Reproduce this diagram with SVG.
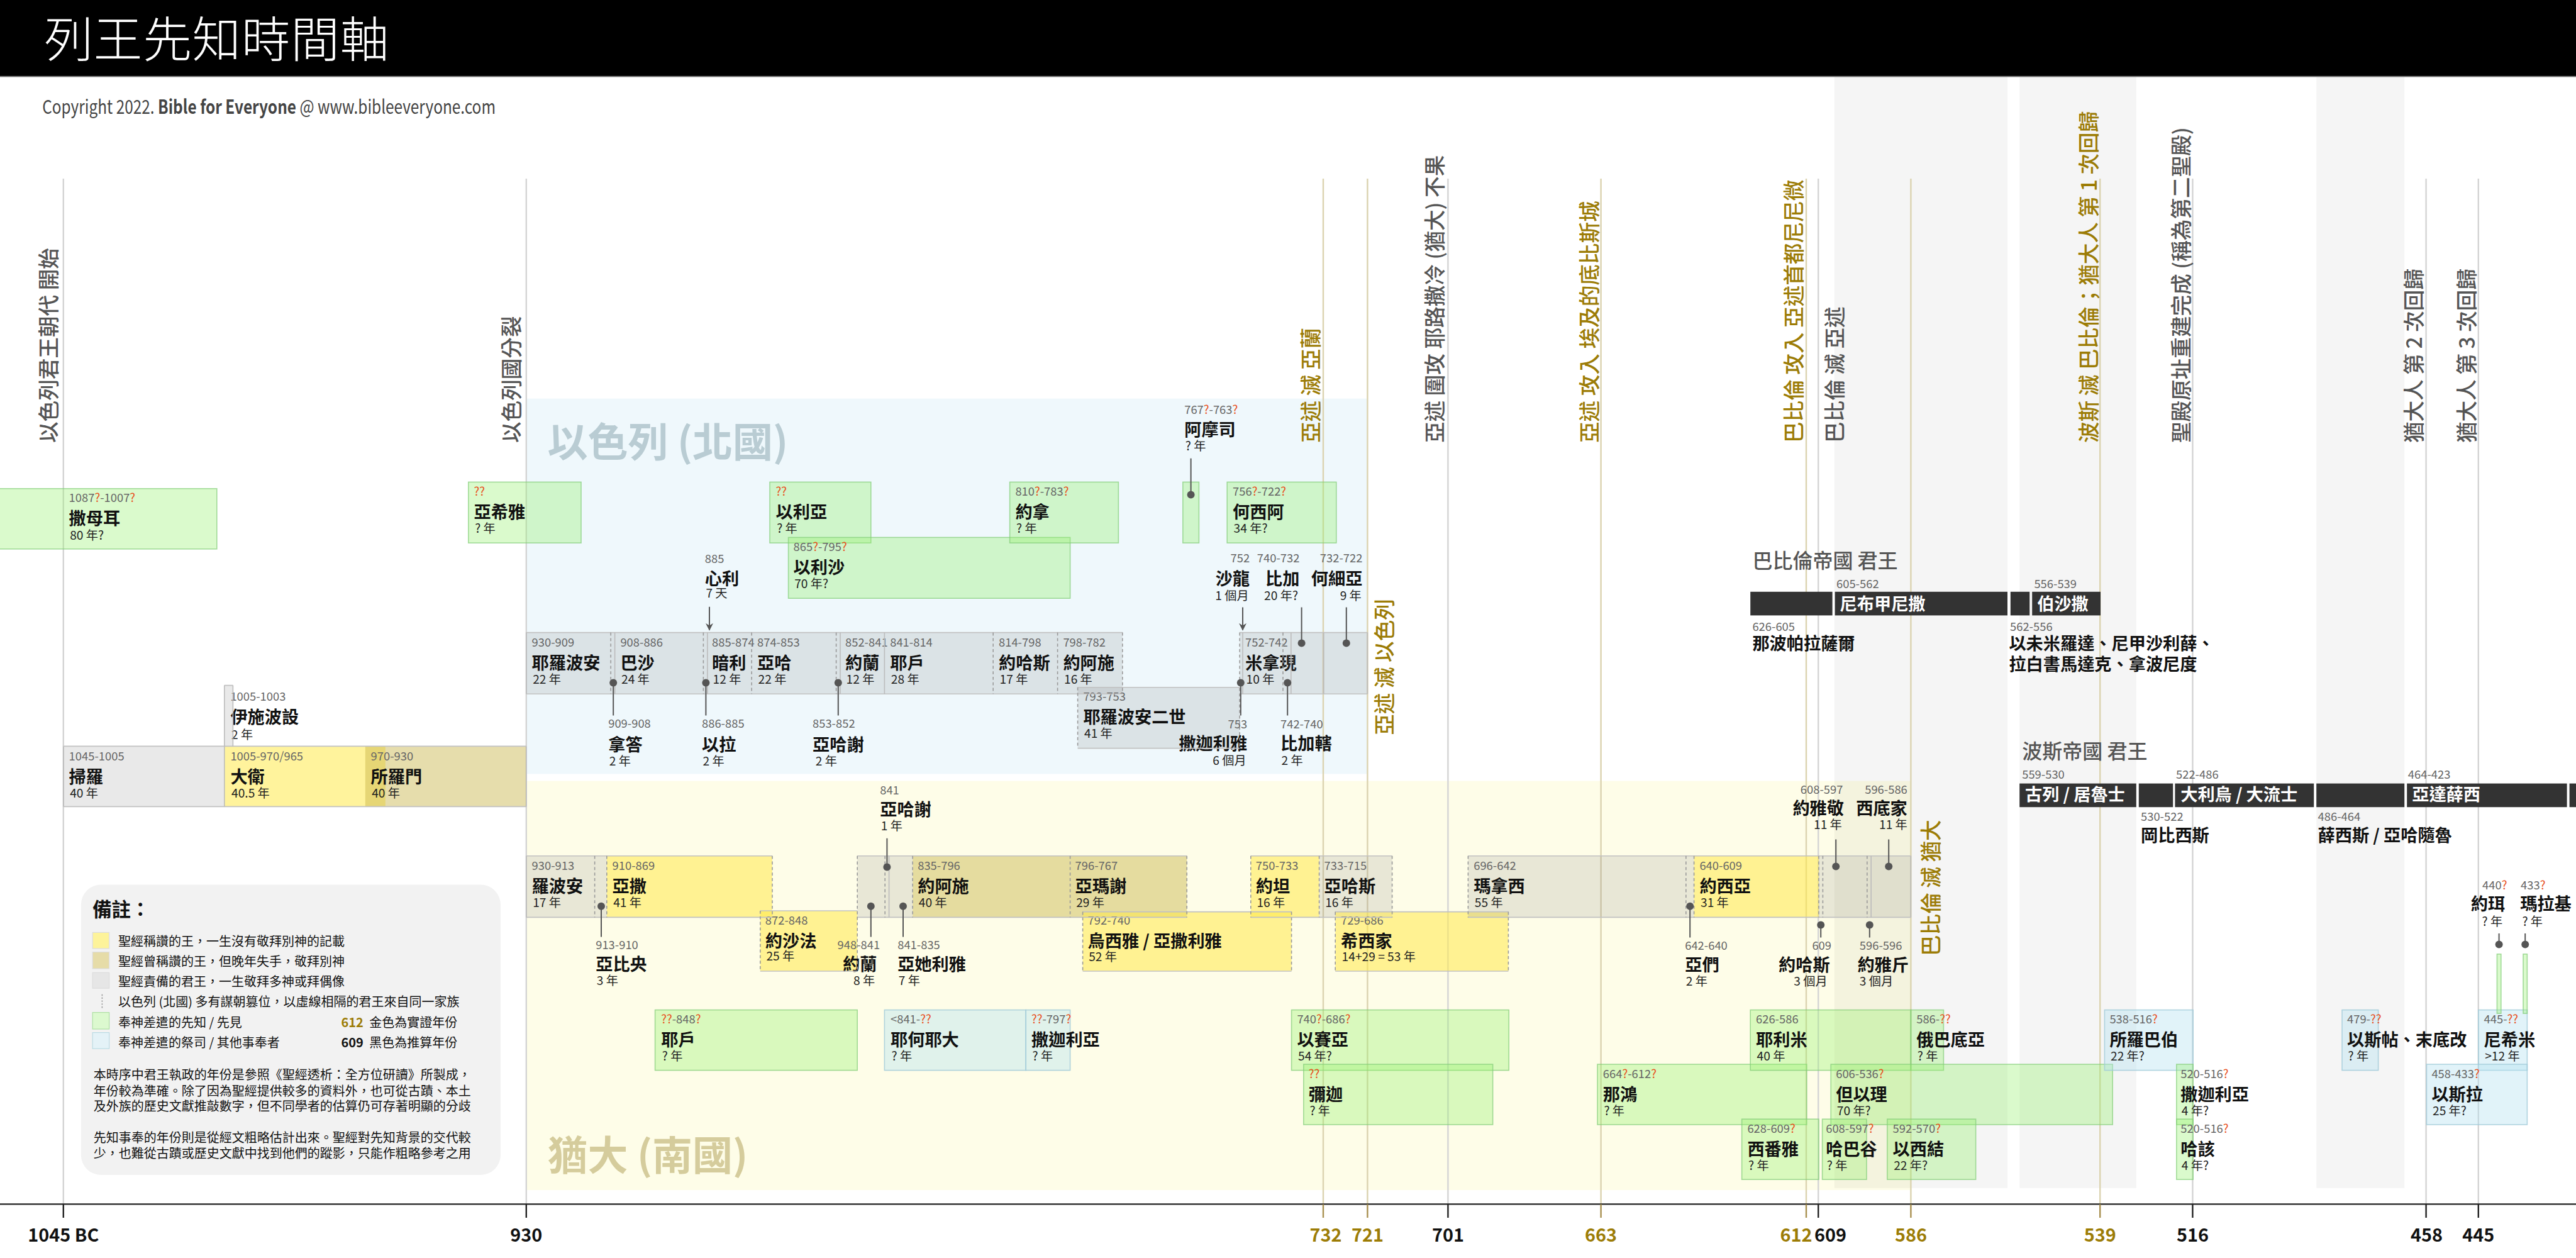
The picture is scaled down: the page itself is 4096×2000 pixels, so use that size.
<svg xmlns="http://www.w3.org/2000/svg" width="4096" height="2000" viewBox="0 0 4096 2000">
<defs>
<style>
text{font-family:"Noto Sans CJK TC","Noto Sans",sans-serif}
.d{font-size:23px;fill:#666}
.q{fill:#e8501e}
.n{font-size:34px;font-weight:700;fill:#111}
.y{font-size:24px;fill:#222}
.e{text-anchor:end}
.kg{fill:#7a7a7a;fill-opacity:.17}
.ky{fill:#ffe94a;fill-opacity:.55}
.kk{fill:#c8b446;fill-opacity:.45}
.pg{fill:#96f06e;fill-opacity:.35;stroke:#82cc78;stroke-opacity:.7;stroke-width:2}
.pb{fill:#b4e1f0;fill-opacity:.4;stroke:#a0cad8;stroke-opacity:.8;stroke-width:2}
.hb{stroke:#c2c2c2;stroke-width:2;fill:none}
.ds{stroke:#9a9a9a;stroke-width:2;stroke-dasharray:6 5;fill:none}
.ss{stroke:#bcbcbc;stroke-width:2;fill:none}
.pole{stroke:#555;stroke-width:2.5;fill:none}
.dot{fill:#555}
.vl{stroke:#d4d4d4;stroke-width:3}
.vg{stroke:#dbd3b0;stroke-width:3}
.vt{font-size:42px;fill:#555;font-weight:500}
.vtg{font-size:42px;fill:#9c7c06;font-weight:500}
.ax{font-size:36px;font-weight:700;fill:#111;text-anchor:middle}
.axg{fill:#9c7c06}
.tk{stroke:#222;stroke-width:3}
.tkg{stroke:#a89050;stroke-width:3}
.bar{fill:#333}
.wn{font-size:34px;font-weight:700;fill:#fff}
.lg{font-size:25px;fill:#111}
.et{font-size:40px;fill:#555;font-weight:500}
</style>
<marker id="ah" viewBox="0 0 10 10" refX="9" refY="5" markerWidth="6" markerHeight="6" orient="auto">
<path d="M0,0L10,5L0,10L3,5z" fill="#555"/>
</marker>
</defs>
<g transform="scale(0.8)">
<rect width="5120" height="2500" fill="#fff"/>
<g id="header">
<rect width="5120" height="152" fill="#000"/>
<line x1="0" y1="152" x2="5120" y2="152" stroke="#777" stroke-width="2"/>
<text x="88" y="114" font-size="97" font-weight="300" fill="#fff" letter-spacing="1">列王先知時間軸</text>
<text x="84" y="226" font-size="38" fill="#444" textLength="901" lengthAdjust="spacingAndGlyphs">Copyright 2022. <tspan font-weight="700">Bible for Everyone</tspan> @ www.bibleeveryone.com</text>
</g>
<g id="backgrounds">
<rect x="1046" y="792" width="1672" height="746" fill="#eff8fc"/>
<rect x="1046" y="1552" width="2752" height="813" fill="#fefde8"/>
<rect x="3646" y="153" width="344" height="2208" fill="#000" fill-opacity=".04"/>
<rect x="4014" y="153" width="232" height="2208" fill="#000" fill-opacity=".04"/>
<rect x="4604" y="153" width="175" height="2208" fill="#000" fill-opacity=".04"/>
<text x="1088" y="907" font-size="80" font-weight="700" fill="#b9ccd3">以色列 (北國)</text>
<text x="1088" y="2325" font-size="80" font-weight="700" fill="#d5cc9c">猶大 (南國)</text>
</g>
<g id="event-lines">
<path class="vl" d="M126,355V2393M1046,355V2393M2878,355V2393M3614,355V2393M4358,355V2393M4822,355V2393M4926,355V2393"/>
<path class="vg" d="M2630,355V2393M2718,355V2393M3182,355V2393M3590,355V2393M3798,355V2393M4174,355V2393"/>
<text class="vt" transform="translate(112,880) rotate(-90)">以色列君王朝代 開始</text>
<text class="vt" transform="translate(1033,880) rotate(-90)">以色列國分裂</text>
<text class="vtg" transform="translate(2621,880) rotate(-90)">亞述 滅 亞蘭</text>
<text class="vtg" transform="translate(2768,1461) rotate(-90)">亞述 滅 以色列</text>
<text class="vt" transform="translate(2868,880) rotate(-90)">亞述 圍攻 耶路撒冷 (猶大) 不果</text>
<text class="vtg" transform="translate(3175,880) rotate(-90)">亞述 攻入 埃及的底比斯城</text>
<text class="vtg" transform="translate(3581,880) rotate(-90)">巴比倫 攻入 亞述首都尼尼微</text>
<text class="vt" transform="translate(3662,880) rotate(-90)">巴比倫 滅 亞述</text>
<text class="vtg" transform="translate(3854,1900) rotate(-90)">巴比倫 滅 猶大</text>
<text class="vtg" transform="translate(4167,880) rotate(-90)">波斯 滅 巴比倫；猶大人 第 1 次回歸</text>
<text class="vt" transform="translate(4351,880) rotate(-90)">聖殿原址重建完成 (稱為第二聖殿)</text>
<text class="vt" transform="translate(4814,880) rotate(-90)">猶大人 第 2 次回歸</text>
<text class="vt" transform="translate(4919,880) rotate(-90)">猶大人 第 3 次回歸</text>
</g>
<g id="axis">
<line x1="0" y1="2393" x2="5120" y2="2393" stroke="#222" stroke-width="3"/>
<path class="tk" d="M126,2393V2420M1046,2393V2420M2878,2393V2420M3614,2393V2420M4358,2393V2420M4822,2393V2420M4926,2393V2420"/>
<path class="tkg" d="M2630,2393V2420M2718,2393V2420M3182,2393V2420M3590,2393V2420M3798,2393V2420M4174,2393V2420"/>
<text class="ax" x="126" y="2468">1045 BC</text>
<text class="ax" x="1046" y="2468">930</text>
<text class="ax axg" x="2635" y="2468">732</text>
<text class="ax axg" x="2718" y="2468">721</text>
<text class="ax" x="2878" y="2468">701</text>
<text class="ax axg" x="3182" y="2468">663</text>
<text class="ax axg" x="3570" y="2468">612</text>
<text class="ax" x="3638" y="2468">609</text>
<text class="ax axg" x="3798" y="2468">586</text>
<text class="ax axg" x="4174" y="2468">539</text>
<text class="ax" x="4358" y="2468">516</text>
<text class="ax" x="4823" y="2468">458</text>
<text class="ax" x="4926" y="2468">445</text>
</g>
<g id="united-kingdom">
<g id="saul"><rect class="kg" x="126" y="1483" width="320" height="120"/><text class="d" x="137" y="1511">1045-1005</text><text class="n" x="137" y="1556">掃羅</text><text class="y" x="139" y="1585">40 年</text></g>
<g id="ishbosheth"><rect class="kg" x="446" y="1362" width="17" height="121"/><text class="d" x="458" y="1392">1005-1003</text><text class="n" x="458" y="1437">伊施波設</text><text class="y" x="460" y="1469">2 年</text></g>
<g id="david"><rect class="ky" x="446" y="1483" width="320" height="120"/><text class="d" x="458" y="1511">1005-970/965</text><text class="n" x="458" y="1556">大衛</text><text class="y" x="460" y="1585">40.5 年</text></g>
<g id="solomon"><rect class="kk" x="726" y="1483" width="320" height="120"/><text class="d" x="737" y="1511">970-930</text><text class="n" x="737" y="1556">所羅門</text><text class="y" x="739" y="1585">40 年</text></g>
</g>
<g id="israel-kings">
<g id="i-jeroboam"><rect class="kg" x="1046" y="1257" width="168" height="122"/><text class="d" x="1057" y="1285">930-909</text><text class="n" x="1057" y="1330">耶羅波安</text><text class="y" x="1059" y="1359">22 年</text></g>
<g id="i-nadab"><rect class="kg" x="1214" y="1257" width="8" height="122"/><text class="d" x="1209" y="1446">909-908</text><text class="n" x="1209" y="1492">拿答</text><text class="y" x="1211" y="1521">2 年</text></g>
<g id="i-baasha"><rect class="kg" x="1222" y="1257" width="176" height="122"/><text class="d" x="1233" y="1285">908-886</text><text class="n" x="1233" y="1330">巴沙</text><text class="y" x="1235" y="1359">24 年</text></g>
<g id="i-elah"><rect class="kg" x="1398" y="1257" width="8" height="122"/><text class="d" x="1395" y="1446">886-885</text><text class="n" x="1395" y="1492">以拉</text><text class="y" x="1397" y="1521">2 年</text></g>
<g id="i-zimri"><text class="d" x="1401" y="1119">885</text><text class="n" x="1401" y="1162">心利</text><text class="y" x="1403" y="1188">7 天</text></g>
<g id="i-omri"><rect class="kg" x="1406" y="1257" width="88" height="122"/><text class="d" x="1415" y="1285">885-874</text><text class="n" x="1415" y="1330">暗利</text><text class="y" x="1417" y="1359">12 年</text></g>
<g id="i-ahab"><rect class="kg" x="1494" y="1257" width="168" height="122"/><text class="d" x="1505" y="1285">874-853</text><text class="n" x="1505" y="1330">亞哈</text><text class="y" x="1507" y="1359">22 年</text></g>
<g id="i-ahaziah"><rect class="kg" x="1662" y="1257" width="8" height="122"/><text class="d" x="1615" y="1446">853-852</text><text class="n" x="1615" y="1492">亞哈謝</text><text class="y" x="1621" y="1521">2 年</text></g>
<g id="i-joram"><rect class="kg" x="1670" y="1257" width="88" height="122"/><text class="d" x="1680" y="1285">852-841</text><text class="n" x="1680" y="1330">約蘭</text><text class="y" x="1682" y="1359">12 年</text></g>
<g id="i-jehu"><rect class="kg" x="1758" y="1257" width="216" height="122"/><text class="d" x="1769" y="1285">841-814</text><text class="n" x="1769" y="1330">耶戶</text><text class="y" x="1771" y="1359">28 年</text></g>
<g id="i-jehoahaz"><rect class="kg" x="1974" y="1257" width="128" height="122"/><text class="d" x="1985" y="1285">814-798</text><text class="n" x="1985" y="1330">約哈斯</text><text class="y" x="1987" y="1359">17 年</text></g>
<g id="i-jehoash"><rect class="kg" x="2102" y="1257" width="129" height="122"/><text class="d" x="2113" y="1285">798-782</text><text class="n" x="2113" y="1330">約阿施</text><text class="y" x="2115" y="1359">16 年</text></g>
<g id="i-jeroboam2"><rect class="kg" x="2142" y="1366" width="322" height="121"/><text class="d" x="2153" y="1393">793-753</text><text class="n" x="2153" y="1438">耶羅波安二世</text><text class="y" x="2155" y="1466">41 年</text></g>
<g id="i-zechariah"><rect class="kg" x="2464" y="1257" width="6" height="122"/><text class="d e" x="2479" y="1447">753</text><text class="n e" x="2479" y="1490">撒迦利雅</text><text class="y e" x="2477" y="1520">6 個月</text></g>
<g id="i-shallum"><text class="d e" x="2484" y="1118">752</text><text class="n e" x="2484" y="1162">沙龍</text><text class="y e" x="2482" y="1192">1 個月</text></g>
<g id="i-menahem"><rect class="kg" x="2470" y="1257" width="80" height="122"/><text class="d" x="2475" y="1285">752-742</text><text class="n" x="2475" y="1330">米拿現</text><text class="y" x="2477" y="1359">10 年</text></g>
<g id="i-pekahiah"><rect class="kg" x="2550" y="1257" width="16" height="122"/><text class="d" x="2545" y="1447">742-740</text><text class="n" x="2545" y="1490">比加轄</text><text class="y" x="2547" y="1520">2 年</text></g>
<g id="i-pekah"><rect class="kg" x="2566" y="1257" width="65" height="122"/><text class="d e" x="2583" y="1118">740-732</text><text class="n e" x="2583" y="1162">比加</text><text class="y e" x="2580" y="1192">20 年?</text></g>
<g id="i-hoshea"><rect class="kg" x="2631" y="1257" width="87" height="122"/><text class="d e" x="2708" y="1118">732-722</text><text class="n e" x="2708" y="1162">何細亞</text><text class="y e" x="2706" y="1192">9 年</text></g>
</g>
<g id="judah-kings">
<g id="j-rehoboam"><rect class="kg" x="1046" y="1701" width="136" height="122"/><text class="d" x="1057" y="1729">930-913</text><text class="n" x="1057" y="1774">羅波安</text><text class="y" x="1059" y="1803">17 年</text></g>
<g id="j-abijah"><rect class="kg" x="1182" y="1701" width="24" height="122"/><text class="d" x="1184" y="1886">913-910</text><text class="n" x="1184" y="1929">亞比央</text><text class="y" x="1186" y="1957">3 年</text></g>
<g id="j-asa"><rect class="ky" x="1206" y="1701" width="329" height="122"/><text class="d" x="1217" y="1729">910-869</text><text class="n" x="1217" y="1774">亞撒</text><text class="y" x="1219" y="1803">41 年</text></g>
<g id="j-jehoshaphat"><rect class="ky" x="1511" y="1810" width="193" height="120"/><text class="d" x="1521" y="1838">872-848</text><text class="n" x="1521" y="1882">約沙法</text><text class="y" x="1523" y="1909">25 年</text></g>
<g id="j-jehoram"><rect class="kg" x="1704" y="1701" width="55" height="122"/><text class="d e" x="1749" y="1886">948-841</text><text class="n e" x="1743" y="1929">約蘭</text><text class="y e" x="1739" y="1957">8 年</text></g>
<g id="j-ahaziah"><rect class="kg" x="1759" y="1701" width="8" height="122"/><text class="d" x="1749" y="1579">841</text><text class="n" x="1749" y="1621">亞哈謝</text><text class="y" x="1751" y="1650">1 年</text></g>
<g id="j-athaliah"><rect class="kg" x="1767" y="1701" width="47" height="122"/><text class="d" x="1784" y="1886">841-835</text><text class="n" x="1784" y="1929">亞她利雅</text><text class="y" x="1786" y="1957">7 年</text></g>
<g id="j-joash"><rect class="kk" x="1814" y="1701" width="313" height="122"/><text class="d" x="1824" y="1729">835-796</text><text class="n" x="1824" y="1774">約阿施</text><text class="y" x="1826" y="1803">40 年</text></g>
<g id="j-amaziah"><rect class="kk" x="2127" y="1701" width="232" height="122"/><text class="d" x="2137" y="1729">796-767</text><text class="n" x="2137" y="1774">亞瑪謝</text><text class="y" x="2139" y="1803">29 年</text></g>
<g id="j-uzziah"><rect class="ky" x="2152" y="1812" width="415" height="118"/><text class="d" x="2162" y="1838">792-740</text><text class="n" x="2162" y="1882">烏西雅 / 亞撒利雅</text><text class="y" x="2164" y="1910">52 年</text></g>
<g id="j-jotham"><rect class="ky" x="2486" y="1701" width="136" height="122"/><text class="d" x="2496" y="1729">750-733</text><text class="n" x="2496" y="1774">約坦</text><text class="y" x="2498" y="1803">16 年</text></g>
<g id="j-ahaz"><rect class="kg" x="2622" y="1701" width="145" height="122"/><text class="d" x="2632" y="1729">733-715</text><text class="n" x="2632" y="1774">亞哈斯</text><text class="y" x="2634" y="1803">16 年</text></g>
<g id="j-hezekiah"><rect class="ky" x="2654" y="1812" width="344" height="118"/><text class="d" x="2665" y="1838">729-686</text><text class="n" x="2665" y="1882">希西家</text><text class="y" x="2667" y="1910">14+29 = 53 年</text></g>
<g id="j-manasseh"><rect class="kg" x="2918" y="1701" width="433" height="122"/><text class="d" x="2929" y="1729">696-642</text><text class="n" x="2929" y="1774">瑪拿西</text><text class="y" x="2931" y="1803">55 年</text></g>
<g id="j-amon"><rect class="kg" x="3351" y="1701" width="16" height="122"/><text class="d" x="3349" y="1888">642-640</text><text class="n" x="3349" y="1930">亞們</text><text class="y" x="3351" y="1959">2 年</text></g>
<g id="j-josiah"><rect class="ky" x="3367" y="1701" width="248" height="122"/><text class="d" x="3378" y="1729">640-609</text><text class="n" x="3378" y="1774">約西亞</text><text class="y" x="3380" y="1803">31 年</text></g>
<g id="j-jehoahaz"><rect class="kg" x="3615" y="1701" width="8" height="122"/><text class="d e" x="3640" y="1888">609</text><text class="n e" x="3637" y="1930">約哈斯</text><text class="y e" x="3632" y="1959">3 個月</text></g>
<g id="j-jehoiakim"><rect class="kg" x="3623" y="1701" width="88" height="122"/><text class="d e" x="3663" y="1577">608-597</text><text class="n e" x="3665" y="1619">約雅敬</text><text class="y e" x="3661" y="1648">11 年</text></g>
<g id="j-jehoiachin"><rect class="kg" x="3711" y="1701" width="8" height="122"/><text class="d" x="3696" y="1888">596-596</text><text class="n" x="3692" y="1930">約雅斤</text><text class="y" x="3696" y="1959">3 個月</text></g>
<g id="j-zedekiah"><rect class="kg" x="3719" y="1701" width="79" height="122"/><text class="d e" x="3791" y="1577">596-586</text><text class="n e" x="3791" y="1619">西底家</text><text class="y e" x="3791" y="1648">11 年</text></g>
</g>
<g id="king-borders">
<path class="hb" d="M126,1483H1046M126,1603H1046M446,1362H463M1046,1257H2231M1046,1379H2231M2464,1257H2718M2464,1379H2718M2142,1366H2464M2142,1487H2464M1046,1701H1535M1046,1823H1535M1704,1701H2359M1704,1823H2359M2486,1701H2767M2486,1823H2767M2918,1701H3798M2918,1823H3798M1511,1810H1704M1511,1930H1704M2152,1812H2567M2152,1930H2567M2654,1812H2998M2654,1930H2998"/>
<path class="ss" d="M126,1483V1603M446,1362V1603M463,1362V1483M1046,1483V1603M1046,1257V1379M1222,1257V1379M1406,1257V1379M1670,1257V1379M1758,1257V1379M2470,1257V1379M2566,1257V1379M2631,1257V1379M2718,1257V1379M1046,1701V1823M1767,1701V1823M3719,1701V1823M3798,1701V1823"/>
<path class="ds" d="M1214,1257V1379M1398,1257V1379M1494,1257V1379M1662,1257V1379M1974,1257V1379M2102,1257V1379M2231,1257V1379M2464,1257V1487M2550,1257V1379M2142,1366V1487M1182,1701V1823M1206,1701V1823M1535,1701V1823M1759,1701V1823M1814,1701V1823M2127,1701V1823M2359,1701V1823M2486,1701V1823M2622,1701V1823M2767,1701V1823M2918,1701V1823M3351,1701V1823M3367,1701V1823M3615,1701V1823M3623,1701V1823M3711,1701V1823M1704,1701V1930M1511,1810V1930M2152,1812V1930M2567,1812V1930M2654,1812V1930M2998,1812V1930"/>
</g>
<g id="prophets">
<g id="p-samuel"><rect class="pg" x="-4" y="971" width="435" height="120"/><text class="d" x="137" y="998">1087<tspan class="q">?</tspan>-1007<tspan class="q">?</tspan></text><text class="n" x="137" y="1043">撒母耳</text><text class="y" x="139" y="1072">80 年?</text></g>
<g id="p-ahijah"><rect class="pg" x="931" y="958" width="224" height="121"/><text class="d" x="942" y="985"><tspan class="q">??</tspan></text><text class="n" x="942" y="1030">亞希雅</text><text class="y" x="944" y="1059">? 年</text></g>
<g id="p-elijah"><rect class="pg" x="1530" y="958" width="201" height="121"/><text class="d" x="1542" y="985"><tspan class="q">??</tspan></text><text class="n" x="1542" y="1030">以利亞</text><text class="y" x="1544" y="1059">? 年</text></g>
<g id="p-elisha"><rect class="pg" x="1567" y="1068" width="560" height="121"/><text class="d" x="1577" y="1095">865<tspan class="q">?</tspan>-795<tspan class="q">?</tspan></text><text class="n" x="1577" y="1140">以利沙</text><text class="y" x="1579" y="1169">70 年?</text></g>
<g id="p-jonah"><rect class="pg" x="2007" y="958" width="216" height="121"/><text class="d" x="2018" y="985">810<tspan class="q">?</tspan>-783<tspan class="q">?</tspan></text><text class="n" x="2018" y="1030">約拿</text><text class="y" x="2020" y="1059">? 年</text></g>
<g id="p-amos"><rect class="pg" x="2351" y="958" width="32" height="121"/><text class="d" x="2354" y="822">767<tspan class="q">?</tspan>-763<tspan class="q">?</tspan></text><text class="n" x="2354" y="866">阿摩司</text><text class="y" x="2356" y="895">? 年</text></g>
<g id="p-hosea"><rect class="pg" x="2439" y="958" width="217" height="121"/><text class="d" x="2450" y="985">756<tspan class="q">?</tspan>-722<tspan class="q">?</tspan></text><text class="n" x="2450" y="1030">何西阿</text><text class="y" x="2452" y="1059">34 年?</text></g>
<g id="p-jehu"><rect class="pg" x="1302" y="2007" width="402" height="120"/><text class="d" x="1314" y="2034"><tspan class="q">??</tspan>-848<tspan class="q">?</tspan></text><text class="n" x="1314" y="2079">耶戶</text><text class="y" x="1316" y="2108">? 年</text></g>
<g id="p-jehoiada"><rect class="pb" x="1758" y="2007" width="281" height="120"/><text class="d" x="1770" y="2034">&lt;841-<tspan class="q">??</tspan></text><text class="n" x="1770" y="2079">耶何耶大</text><text class="y" x="1772" y="2108">? 年</text></g>
<g id="p-zechariah-priest"><rect class="pb" x="2039" y="2007" width="88" height="120"/><text class="d" x="2050" y="2034"><tspan class="q">??</tspan>-797<tspan class="q">?</tspan></text><text class="n" x="2050" y="2079">撒迦利亞</text><text class="y" x="2052" y="2108">? 年</text></g>
<g id="p-isaiah"><rect class="pg" x="2567" y="2007" width="432" height="120"/><text class="d" x="2578" y="2034">740<tspan class="q">?</tspan>-686<tspan class="q">?</tspan></text><text class="n" x="2578" y="2079">以賽亞</text><text class="y" x="2580" y="2108">54 年?</text></g>
<g id="p-micah"><rect class="pg" x="2591" y="2115" width="376" height="120"/><text class="d" x="2601" y="2142"><tspan class="q">??</tspan></text><text class="n" x="2601" y="2187">彌迦</text><text class="y" x="2603" y="2216">? 年</text></g>
<g id="p-nahum"><rect class="pg" x="3175" y="2115" width="416" height="120"/><text class="d" x="3186" y="2142">664<tspan class="q">?</tspan>-612<tspan class="q">?</tspan></text><text class="n" x="3186" y="2187">那鴻</text><text class="y" x="3188" y="2216">? 年</text></g>
<g id="p-jeremiah"><rect class="pg" x="3479" y="2007" width="319" height="120"/><text class="d" x="3490" y="2034">626-586</text><text class="n" x="3490" y="2079">耶利米</text><text class="y" x="3492" y="2108">40 年</text></g>
<g id="p-obadiah"><rect class="pg" x="3798" y="2007" width="65" height="120"/><text class="d" x="3809" y="2034">586-<tspan class="q">??</tspan></text><text class="n" x="3809" y="2079">俄巴底亞</text><text class="y" x="3811" y="2108">? 年</text></g>
<g id="p-daniel"><rect class="pg" x="3639" y="2115" width="560" height="120"/><text class="d" x="3649" y="2142">606-536<tspan class="q">?</tspan></text><text class="n" x="3649" y="2187">但以理</text><text class="y" x="3651" y="2216">70 年?</text></g>
<g id="p-zephaniah"><rect class="pg" x="3462" y="2224" width="153" height="120"/><text class="d" x="3473" y="2251">628-609<tspan class="q">?</tspan></text><text class="n" x="3473" y="2296">西番雅</text><text class="y" x="3475" y="2325">? 年</text></g>
<g id="p-habakkuk"><rect class="pg" x="3622" y="2224" width="88" height="120"/><text class="d" x="3629" y="2251">608-597<tspan class="q">?</tspan></text><text class="n" x="3629" y="2296">哈巴谷</text><text class="y" x="3631" y="2325">? 年</text></g>
<g id="p-ezekiel"><rect class="pg" x="3751" y="2224" width="176" height="120"/><text class="d" x="3762" y="2251">592-570<tspan class="q">?</tspan></text><text class="n" x="3762" y="2296">以西結</text><text class="y" x="3764" y="2325">22 年?</text></g>
<g id="p-zerubbabel"><rect class="pb" x="4183" y="2007" width="176" height="120"/><text class="d" x="4193" y="2034">538-516<tspan class="q">?</tspan></text><text class="n" x="4193" y="2079">所羅巴伯</text><text class="y" x="4195" y="2108">22 年?</text></g>
<g id="p-zechariah"><rect class="pg" x="4326" y="2115" width="33" height="120"/><text class="d" x="4334" y="2142">520-516<tspan class="q">?</tspan></text><text class="n" x="4334" y="2187">撒迦利亞</text><text class="y" x="4336" y="2216">4 年?</text></g>
<g id="p-haggai"><rect class="pg" x="4326" y="2224" width="33" height="120"/><text class="d" x="4334" y="2251">520-516<tspan class="q">?</tspan></text><text class="n" x="4334" y="2296">哈該</text><text class="y" x="4336" y="2325">4 年?</text></g>
<g id="p-esther"><rect class="pb" x="4655" y="2007" width="72" height="120"/><text class="d" x="4665" y="2034">479-<tspan class="q">??</tspan></text><text class="n" x="4665" y="2079">以斯帖、末底改</text><text class="y" x="4667" y="2108">? 年</text></g>
<g id="p-nehemiah"><rect class="pb" x="4926" y="2007" width="97" height="120"/><text class="d" x="4937" y="2034">445-<tspan class="q">??</tspan></text><text class="n" x="4937" y="2079">尼希米</text><text class="y" x="4939" y="2108">&gt;12 年</text></g>
<g id="p-ezra"><rect class="pb" x="4823" y="2115" width="200" height="120"/><text class="d" x="4833" y="2142">458-433<tspan class="q">?</tspan></text><text class="n" x="4833" y="2187">以斯拉</text><text class="y" x="4835" y="2216">25 年?</text></g>
<g id="p-joel"><rect class="pg" x="4963" y="1896" width="8" height="118"/><text class="d e" x="4983" y="1768">440<tspan class="q">?</tspan></text><text class="n e" x="4979" y="1809">約珥</text><text class="y e" x="4974" y="1840">? 年</text></g>
<g id="p-malachi"><rect class="pg" x="5015" y="1896" width="8" height="118"/><text class="d" x="5010" y="1768">433<tspan class="q">?</tspan></text><text class="n" x="5009" y="1809">瑪拉基</text><text class="y" x="5013" y="1840">? 年</text></g>
</g>
<g id="empires">
<text class="et" x="3483" y="1129">巴比倫帝國 君王</text>
<g id="b-nabopolassar"><rect class="bar" x="3479" y="1176" width="163" height="47"/><text class="d" x="3483" y="1254">626-605</text><text class="n" x="3483" y="1291">那波帕拉薩爾</text></g>
<g id="b-nebuchadnezzar"><rect class="bar" x="3647" y="1176" width="343" height="47"/><text class="d" x="3650" y="1169">605-562</text><text class="wn" x="3657" y="1213">尼布甲尼撒</text></g>
<g id="b-others"><rect class="bar" x="3996" y="1176" width="38" height="47"/><text class="d" x="3995" y="1254">562-556</text><text class="n" x="3993" y="1291">以未米羅達、尼甲沙利薛、</text><text class="n" x="3993" y="1333">拉白書馬達克、拿波尼度</text></g>
<g id="b-belshazzar"><rect class="bar" x="4039" y="1176" width="136" height="47"/><text class="d" x="4043" y="1169">556-539</text><text class="wn" x="4049" y="1213">伯沙撒</text></g>
<text class="et" x="4019" y="1508">波斯帝國 君王</text>
<g id="f-cyrus"><rect class="bar" x="4014" y="1557" width="232" height="47"/><text class="d" x="4019" y="1548">559-530</text><text class="wn" x="4025" y="1591">古列 / 居魯士</text></g>
<g id="f-cambyses"><rect class="bar" x="4251" y="1557" width="68" height="47"/><text class="d" x="4255" y="1631">530-522</text><text class="n" x="4255" y="1673">岡比西斯</text></g>
<g id="f-darius"><rect class="bar" x="4323" y="1557" width="276" height="47"/><text class="d" x="4325" y="1548">522-486</text><text class="wn" x="4334" y="1591">大利烏 / 大流士</text></g>
<g id="f-xerxes"><rect class="bar" x="4604" y="1557" width="175" height="47"/><text class="d" x="4607" y="1631">486-464</text><text class="n" x="4607" y="1673">薛西斯 / 亞哈隨魯</text></g>
<g id="f-artaxerxes"><rect class="bar" x="4784" y="1557" width="318" height="47"/><text class="d" x="4786" y="1548">464-423</text><text class="wn" x="4794" y="1591">亞達薛西</text></g>
<g id="f-next"><rect class="bar" x="5107" y="1557" width="20" height="47"/></g>
</g>
<g id="connectors">
<path class="pole" d="M1219,1357V1422M1403,1357V1422M1666,1357V1422M2466,1357V1422M2559,1357V1422M2587,1207V1278M2676,1207V1278M2367,911V983M1195,1801V1862M1731,1801V1862M1763,1666V1723M1795,1801V1862M3359,1801V1863M3619,1838V1863M3649,1668V1722M3716,1838V1863M3754,1668V1722M4967,1855V1877M5019,1855V1877"/>
<line class="pole" x1="1410" y1="1206" x2="1410" y2="1252" marker-end="url(#ah)"/>
<line class="pole" x1="2470" y1="1207" x2="2470" y2="1252" marker-end="url(#ah)"/>
<g class="dot">
<circle cx="1219" cy="1357" r="7.5"/><circle cx="1403" cy="1357" r="7.5"/><circle cx="1666" cy="1357" r="7.5"/><circle cx="2466" cy="1357" r="7.5"/><circle cx="2559" cy="1357" r="7.5"/><circle cx="2587" cy="1278" r="7.5"/><circle cx="2676" cy="1278" r="7.5"/><circle cx="2367" cy="983" r="7.5"/>
<circle cx="1195" cy="1801" r="7.5"/><circle cx="1731" cy="1801" r="7.5"/><circle cx="1763" cy="1723" r="7.5"/><circle cx="1795" cy="1801" r="7.5"/><circle cx="3359" cy="1801" r="7.5"/><circle cx="3619" cy="1838" r="7.5"/><circle cx="3649" cy="1722" r="7.5"/><circle cx="3716" cy="1838" r="7.5"/><circle cx="3754" cy="1722" r="7.5"/><circle cx="4967" cy="1877" r="7.5"/><circle cx="5019" cy="1877" r="7.5"/>
</g>
</g>
<g id="legend">
<rect x="161" y="1758" width="834" height="577" rx="40" fill="#f2f2f2"/>
<text x="184" y="1821" font-size="38" font-weight="700" fill="#111">備註：</text>
<rect x="184" y="1853" width="33" height="32" fill="#fdf39a" stroke="#ddd" stroke-width="1.5"/>
<rect x="184" y="1892" width="33" height="33" fill="#e6dca8" stroke="#ddd" stroke-width="1.5"/>
<rect x="184" y="1933" width="33" height="31" fill="#e6e6e6" stroke="#ddd" stroke-width="1.5"/>
<line x1="203" y1="1976" x2="203" y2="2006" stroke="#999" stroke-width="2" stroke-dasharray="3 3"/>
<rect x="184" y="2012" width="33" height="33" fill="#dcf9cf" stroke="#aee0a4" stroke-width="1.5"/>
<rect x="184" y="2052" width="33" height="32" fill="#e4f2f7" stroke="#bcdbe4" stroke-width="1.5"/>
<text class="lg" x="235" y="1880">聖經稱讚的王，一生沒有敬拜別神的記載</text>
<text class="lg" x="235" y="1920">聖經曾稱讚的王，但晚年失手，敬拜別神</text>
<text class="lg" x="235" y="1960">聖經責備的君王，一生敬拜多神或拜偶像</text>
<text class="lg" x="235" y="2000">以色列 (北國) 多有謀朝篡位，以虛線相隔的君王來自同一家族</text>
<text class="lg" x="235" y="2041">奉神差遣的先知 / 先見</text>
<text class="lg" x="235" y="2081">奉神差遣的祭司 / 其他事奉者</text>
<text class="lg" x="678" y="2041" font-weight="700" style="fill:#9c7c06">612</text>
<text class="lg" x="734" y="2041">金色為實證年份</text>
<text class="lg" x="678" y="2081" font-weight="700">609</text>
<text class="lg" x="734" y="2081">黑色為推算年份</text>
<text class="lg" x="186" y="2145">本時序中君王執政的年份是參照《聖經透析：全方位研讀》所製成，</text>
<text class="lg" x="186" y="2177">年份較為準確。除了因為聖經提供較多的資料外，也可從古蹟、本土</text>
<text class="lg" x="186" y="2208">及外族的歷史文獻推敲數字，但不同學者的估算仍可存著明顯的分歧</text>
<text class="lg" x="186" y="2270">先知事奉的年份則是從經文粗略估計出來。聖經對先知背景的交代較</text>
<text class="lg" x="186" y="2301">少，也難從古蹟或歷史文獻中找到他們的蹤影，只能作粗略參考之用</text>
</g>
</g>
</svg>
